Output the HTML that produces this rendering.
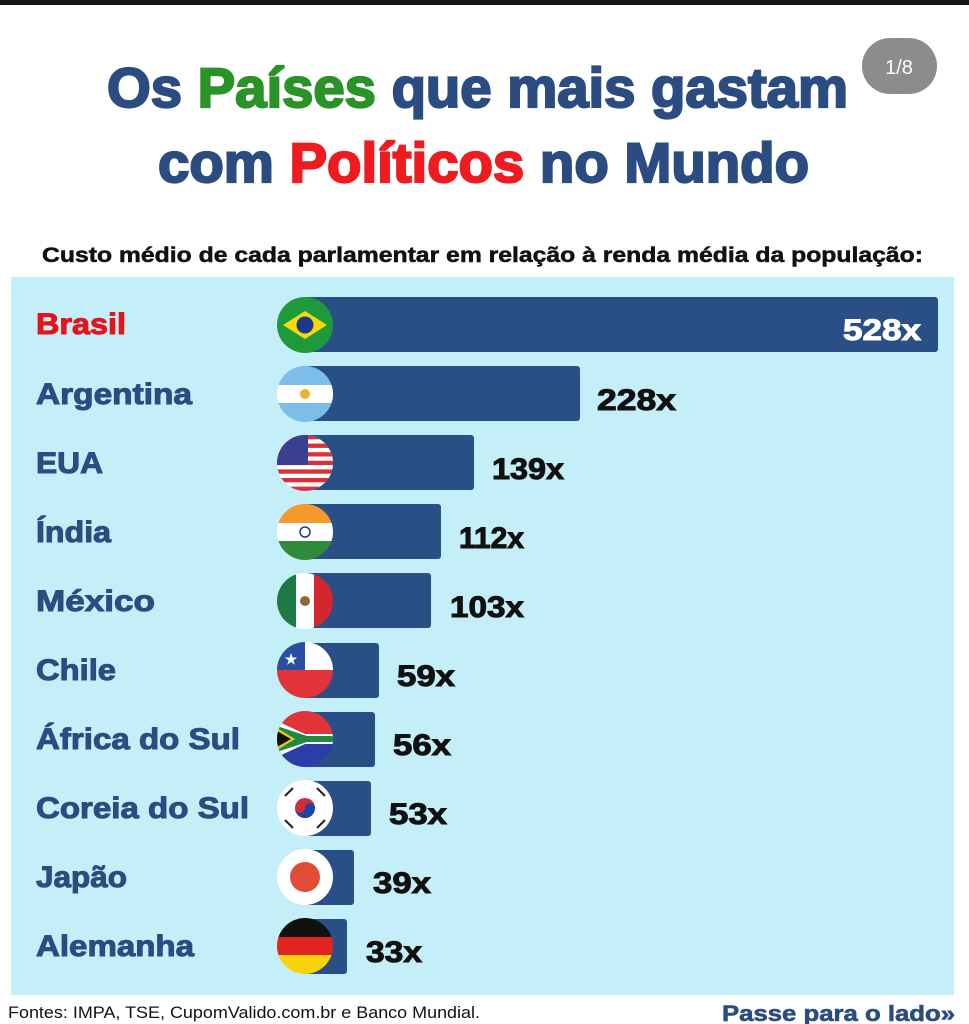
<!DOCTYPE html>
<html><head><meta charset="utf-8"><style>
html,body{margin:0;padding:0;background:#fff;}
svg{display:block;}
</style></head><body>
<svg width="969" height="1024" viewBox="0 0 969 1024" xmlns="http://www.w3.org/2000/svg" font-family="Liberation Sans, sans-serif" font-weight="bold">
<defs>
<clipPath id="c"><circle cx="0" cy="0" r="28"/></clipPath>
</defs>
<rect x="0" y="0" width="969" height="5" fill="#121417"/>
<rect x="862" y="38" width="75" height="56" rx="28" fill="#8c8c8c"/>
<text x="899" y="74" font-size="20" font-weight="normal" fill="#fff" text-anchor="middle">1/8</text>
<g stroke-width="2.2">
<text x="107" y="107" font-size="56" textLength="741" lengthAdjust="spacingAndGlyphs" fill="#2b4c80" stroke="#2b4c80"><tspan>Os </tspan><tspan fill="#2a9328" stroke="#2a9328">Países</tspan><tspan> que mais gastam</tspan></text>
<text x="158" y="182" font-size="56" textLength="651" lengthAdjust="spacingAndGlyphs" fill="#2b4c80" stroke="#2b4c80"><tspan>com </tspan><tspan fill="#ee1b1f" stroke="#ee1b1f">Políticos</tspan><tspan> no Mundo</tspan></text>
</g>
<text x="42" y="262" font-size="21" textLength="881" lengthAdjust="spacingAndGlyphs" fill="#111" stroke="#111" stroke-width="0.5">Custo médio de cada parlamentar em relação à renda média da população:</text>
<rect x="11" y="277" width="943" height="718" fill="#c4eef8"/>

<g fill="#2a4f86">
<rect x="305" y="297" width="633" height="55" rx="3"/>
<rect x="305" y="366" width="275" height="55" rx="3"/>
<rect x="305" y="435" width="169" height="55" rx="3"/>
<rect x="305" y="504" width="136" height="55" rx="3"/>
<rect x="305" y="573" width="126" height="55" rx="3"/>
<rect x="305" y="643" width="74" height="55" rx="3"/>
<rect x="305" y="712" width="70" height="55" rx="3"/>
<rect x="305" y="781" width="66" height="55" rx="3"/>
<rect x="305" y="850" width="49" height="55" rx="3"/>
<rect x="305" y="919" width="42" height="55" rx="3"/>
</g>

<g font-size="30" fill="#2b4c80" stroke="#2b4c80" stroke-width="1" lengthAdjust="spacingAndGlyphs">
<text x="36" y="334" fill="#e3141b" stroke="#e3141b" textLength="90" lengthAdjust="spacingAndGlyphs">Brasil</text>
<text x="36" y="404" textLength="156" lengthAdjust="spacingAndGlyphs">Argentina</text>
<text x="36" y="473" textLength="67" lengthAdjust="spacingAndGlyphs">EUA</text>
<text x="36" y="542" textLength="75" lengthAdjust="spacingAndGlyphs">Índia</text>
<text x="36" y="611" textLength="119" lengthAdjust="spacingAndGlyphs">México</text>
<text x="36" y="680" textLength="80" lengthAdjust="spacingAndGlyphs">Chile</text>
<text x="36" y="749" textLength="204" lengthAdjust="spacingAndGlyphs">África do Sul</text>
<text x="36" y="818" textLength="213" lengthAdjust="spacingAndGlyphs">Coreia do Sul</text>
<text x="36" y="887" textLength="91" lengthAdjust="spacingAndGlyphs">Japão</text>
<text x="36" y="956" textLength="158" lengthAdjust="spacingAndGlyphs">Alemanha</text>
</g>

<g font-size="30" fill="#111" stroke="#111" stroke-width="1">
<text x="843" y="340" fill="#fff" stroke="#fff" textLength="78" lengthAdjust="spacingAndGlyphs">528x</text>
<text x="597" y="410" textLength="79" lengthAdjust="spacingAndGlyphs">228x</text>
<text x="492" y="479" textLength="72" lengthAdjust="spacingAndGlyphs">139x</text>
<text x="459" y="548" textLength="65" lengthAdjust="spacingAndGlyphs">112x</text>
<text x="450" y="617" textLength="74" lengthAdjust="spacingAndGlyphs">103x</text>
<text x="397" y="686" textLength="58" lengthAdjust="spacingAndGlyphs">59x</text>
<text x="393" y="755" textLength="58" lengthAdjust="spacingAndGlyphs">56x</text>
<text x="389" y="824" textLength="58" lengthAdjust="spacingAndGlyphs">53x</text>
<text x="373" y="893" textLength="58" lengthAdjust="spacingAndGlyphs">39x</text>
<text x="366" y="962" textLength="56" lengthAdjust="spacingAndGlyphs">33x</text>
</g>

<!-- Flags -->
<g transform="translate(305,325)" clip-path="url(#c)">
<rect x="-28" y="-28" width="56" height="56" fill="#1f9a3a"/>
<polygon points="-22,0 0,-14 22,0 0,14" fill="#f5d90a"/>
<circle r="8.5" fill="#1a3a8a"/>
</g>
<g transform="translate(305,394)" clip-path="url(#c)">
<rect x="-28" y="-28" width="56" height="56" fill="#7cbde9"/>
<rect x="-28" y="-9" width="56" height="18" fill="#fff"/>
<circle r="5" fill="#f0b030"/>
</g>
<g transform="translate(305,463)" clip-path="url(#c)">
<rect x="-28" y="-28" width="56" height="56" fill="#fff"/>
<g fill="#d8313a">
<rect x="-28" y="-28" width="56" height="4.3"/><rect x="-28" y="-19.4" width="56" height="4.3"/>
<rect x="-28" y="-10.8" width="56" height="4.3"/><rect x="-28" y="-2.2" width="56" height="4.3"/>
<rect x="-28" y="6.4" width="56" height="4.3"/><rect x="-28" y="15" width="56" height="4.3"/>
<rect x="-28" y="23.6" width="56" height="4.3"/>
</g>
<rect x="-28" y="-28" width="31" height="30" fill="#3b3f8f"/>
</g>
<g transform="translate(305,532)" clip-path="url(#c)">
<rect x="-28" y="-28" width="56" height="19" fill="#f39a2b"/>
<rect x="-28" y="-9" width="56" height="18" fill="#fff"/>
<rect x="-28" y="9" width="56" height="19" fill="#2f8a3a"/>
<circle r="5" fill="none" stroke="#1a3a8a" stroke-width="1.5"/>
</g>
<g transform="translate(305,601)" clip-path="url(#c)">
<rect x="-28" y="-28" width="19" height="56" fill="#1d7a45"/>
<rect x="-9" y="-28" width="18" height="56" fill="#fff"/>
<rect x="9" y="-28" width="19" height="56" fill="#d3272f"/>
<circle r="5" fill="#8a6a3a"/>
</g>
<g transform="translate(305,670)" clip-path="url(#c)">
<rect x="-28" y="-28" width="56" height="28" fill="#fff"/>
<rect x="-28" y="0" width="56" height="28" fill="#e0333a"/>
<rect x="-28" y="-28" width="28" height="28" fill="#2b4fa0"/>
<text x="-14" y="-6" font-size="14" fill="#fff" text-anchor="middle">★</text>
</g>
<g transform="translate(305,739)" clip-path="url(#c)">
<rect x="-28" y="-28" width="56" height="28" fill="#e0333a"/>
<rect x="-28" y="0" width="56" height="28" fill="#2b3ea8"/>
<polygon points="-28,-18 0,-5 28,-5 28,5 0,5 -28,18" fill="#fff"/>
<polygon points="-28,-13 2,-3 28,-3 28,3 2,3 -28,13" fill="#1f8a45"/>
<polygon points="-28,-11 -10,0 -28,11" fill="#f5c518"/>
<polygon points="-28,-8 -14,0 -28,8" fill="#111"/>
</g>
<g transform="translate(305,808)" clip-path="url(#c)">
<rect x="-28" y="-28" width="56" height="56" fill="#fff"/>
<circle r="10" fill="#cd2e3a"/>
<path d="M-10,0 A10,10 0 0,0 10,0 A5,5 0 0,0 0,0 A5,5 0 0,1 -10,0Z" fill="#1a47a0"/>
<g stroke="#222" stroke-width="2"><line x1="-20" y1="-12" x2="-12" y2="-20"/><line x1="12" y1="-20" x2="20" y2="-12"/><line x1="-20" y1="12" x2="-12" y2="20"/><line x1="12" y1="20" x2="20" y2="12"/></g>
</g>
<g transform="translate(305,877)" clip-path="url(#c)">
<rect x="-28" y="-28" width="56" height="56" fill="#fff"/>
<circle r="15" fill="#e24b36"/>
</g>
<g transform="translate(305,946)" clip-path="url(#c)">
<rect x="-28" y="-28" width="56" height="19" fill="#111"/>
<rect x="-28" y="-9" width="56" height="18" fill="#e0241f"/>
<rect x="-28" y="9" width="56" height="19" fill="#f8d20b"/>
</g>

<text x="8" y="1018" font-size="17" font-weight="normal" textLength="472" lengthAdjust="spacingAndGlyphs" fill="#111">Fontes: IMPA, TSE, CupomValido.com.br e Banco Mundial.</text>
<text x="722" y="1021" font-size="22" textLength="233" lengthAdjust="spacingAndGlyphs" fill="#2b4c80" stroke="#2b4c80" stroke-width="0.6">Passe para o lado»</text>
</svg>
</body></html>
